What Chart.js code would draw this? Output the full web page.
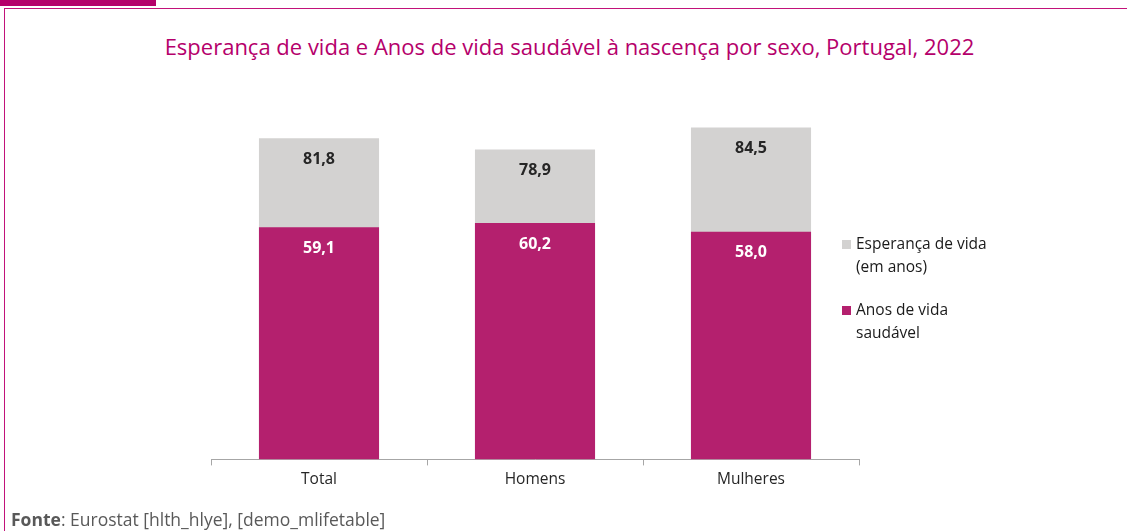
<!DOCTYPE html>
<html>
<head>
<meta charset="utf-8">
<script src="https://cdn.jsdelivr.net/npm/chart.js@4.4.1/dist/chart.umd.min.js"></script>
<style>
  html, body { margin: 0; padding: 0; background: #fff; }
  body { width: 1127px; height: 531px; position: relative; overflow: hidden; font-family: 'Open Sans', sans-serif; }
  .tab { position: absolute; left: 0; top: 0; width: 156px; height: 6px; background: #b5006b; }
  .frame { position: absolute; left: 4px; top: 8px; width: 1140px; height: 600px; border-top: 1px solid #c2127a; border-left: 1px solid #c2127a; }
  .title { position: absolute; left: 6px; width: 1127px; top: 31px; text-align: center; color: #b5006b; font-size: 22px; }
  .chart-wrap { position: absolute; left: 0; top: 0; width: 1127px; height: 531px; }
  .legend { position: absolute; left: 842px; top: 232px; font-size: 15.5px; color: #1a1a1a; line-height: 23px; }
  .legend .item { position: relative; padding-left: 14px; margin-bottom: 20px; }
  .legend .sw { position: absolute; left: 0; top: 8px; width: 9px; height: 9px; }
  .source { position: absolute; left: 11px; top: 507px; font-size: 17.5px; color: #595959; }
</style>
</head>
<body>
<div class="tab"></div>
<div class="frame"></div>
<div class="title">Esperança de vida e Anos de vida saudável à nascença por sexo, Portugal, 2022</div>
<div class="chart-wrap"><canvas id="chart" width="1127" height="531"></canvas></div>
<div class="legend">
  <div class="item"><span class="sw" style="background:#d3d2d1"></span>Esperança de vida<br>(em anos)</div>
  <div class="item"><span class="sw" style="background:#b4206e"></span>Anos de vida<br>saudável</div>
</div>
<div class="source"><b>Fonte</b>: Eurostat [hlth_hlye], [demo_mlifetable]</div>
<script>
const categories = ['Total', 'Homens', 'Mulheres'];
const lifeExpectancy = [81.8, 78.9, 84.5];
const healthyYears = [59.1, 60.2, 58.0];

const fmt = (v) => v.toFixed(1).replace('.', ',');

// value labels drawn inside the top of each bar
const valueLabels = {
  id: 'valueLabels',
  afterDatasetsDraw(chart) {
    const ctx = chart.ctx;
    ctx.save();
    ctx.font = 'bold 16px "Open Sans", sans-serif';
    ctx.textAlign = 'center';
    ctx.textBaseline = 'middle';
    chart.data.datasets.forEach((ds, i) => {
      const meta = chart.getDatasetMeta(i);
      meta.data.forEach((bar, j) => {
        ctx.fillStyle = ds.labelColor;
        ctx.fillText(fmt(ds.data[j]), bar.x, bar.y + 21);
      });
    });
    ctx.restore();
  }
};

new Chart(document.getElementById('chart'), {
  type: 'bar',
  data: {
    labels: categories,
    datasets: [
      { label: 'Anos de vida saudável', data: healthyYears, backgroundColor: '#b4206e', labelColor: '#ffffff', grouped: false, order: 0 },
      { label: 'Esperança de vida (em anos)', data: lifeExpectancy, backgroundColor: '#d3d2d1', labelColor: '#262626', grouped: false, order: 1 },
    ],
  },
  plugins: [valueLabels],
  options: {
    responsive: false,
    animation: false,
    layout: { padding: { left: 211, right: 268, top: 106, bottom: 37 } },
    datasets: { bar: { categoryPercentage: 1, barPercentage: 0.556 } },
    scales: {
      x: {
        grid: { display: true, drawOnChartArea: false, offset: true, tickLength: 6, color: '#a6a6a6' },
        border: { display: true, color: '#a6a6a6', width: 1 },
        ticks: { color: '#262626', font: { family: 'Open Sans', size: 15.5 }, padding: 5 },
      },
      y: { display: false, min: 0, max: 90 },
    },
    plugins: { legend: { display: false }, tooltip: { enabled: false } },
  },
});
</script>
</body>
</html>
